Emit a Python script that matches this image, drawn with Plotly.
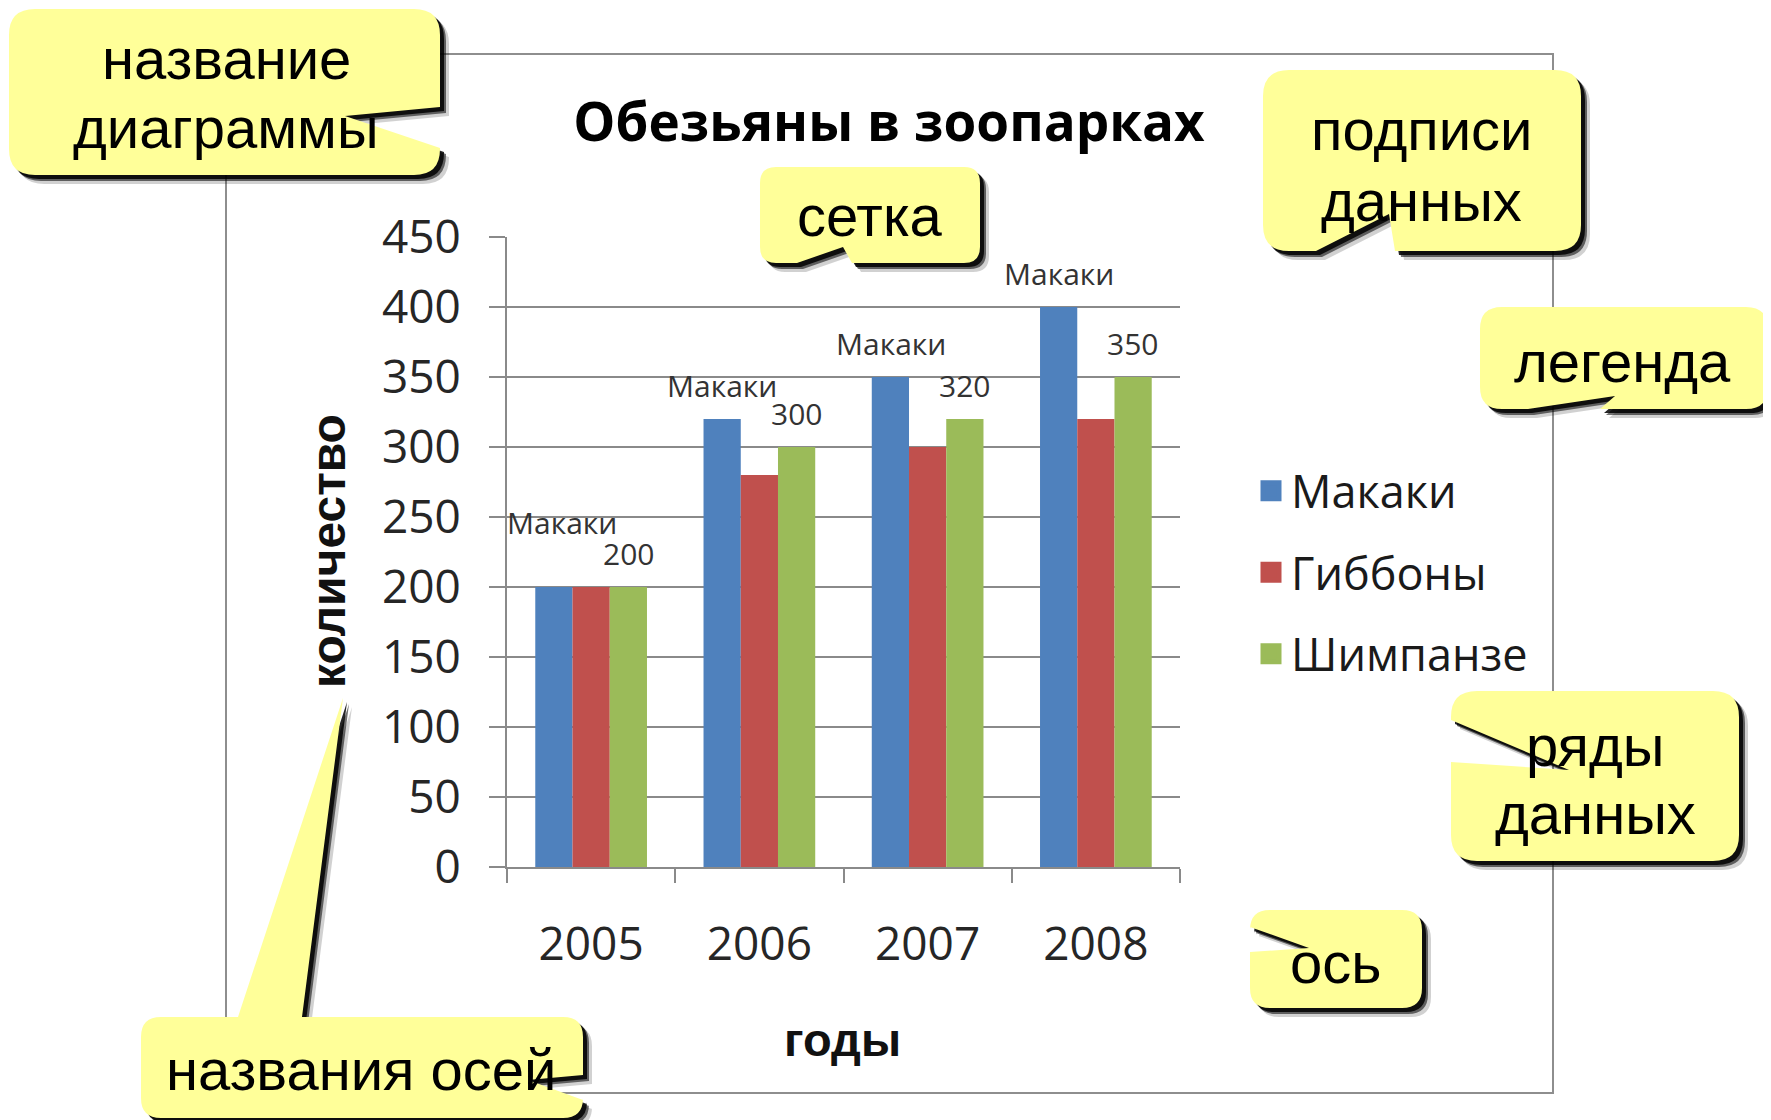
import plotly.graph_objects as go

# ---------------- data ----------------
years = ["2005", "2006", "2007", "2008"]
series_names = ["Макаки", "Гиббоны", "Шимпанзе"]
makaki = [200, 320, 350, 400]
gibbony = [200, 280, 300, 320]
shimpanze = [200, 300, 320, 350]
y_tick_values = [0, 50, 100, 150, 200, 250, 300, 350, 400, 450]

chart_title = "Обезьяны в зоопарках"
x_title = "годы"
y_title = "количество"

callout_texts = [
    ["название", "диаграммы"],
    ["сетка"],
    ["подписи", "данных"],
    ["легенда"],
    ["ряды", "данных"],
    ["ось"],
    ["названия осей"],
]

# ---------------- styling / geometry ----------------
colors = ["#4F81BD", "#C0504D", "#9BBB59"]
AX = "#8a8a8a"
OFF = 8  # page body margin
W, H = 1771 - OFF, 1120 - OFF
# plot area in page pixels
PL, PR, PT, PB = 507, 1180, 237, 867


def px(x):
    return (x - PL) / (PR - PL)


def py(y):
    return (PB - y) / (PB - PT)


fig = go.Figure()
for name, vals, c in zip(series_names, [makaki, gibbony, shimpanze], colors):
    fig.add_bar(x=years, y=vals, name=name, marker=dict(color=c, line=dict(width=0)),
                showlegend=False)
# legend entries (bigger squares than bar legend symbols)
for name, c in zip(series_names, colors):
    fig.add_scatter(x=[None], y=[None], mode="markers", name=name, legendgroup=name,
                    marker=dict(symbol="square", size=16, color=c, line=dict(width=5, color=c)))

fig.update_layout(
    width=W, height=H,
    margin=dict(l=PL - OFF, r=W - (PR - OFF), t=PT - OFF, b=H - (PB - OFF), autoexpand=False),
    paper_bgcolor="white", plot_bgcolor="white",
    barmode="group", bargap=0.336, bargroupgap=0,
    font=dict(family="Open Sans", color="#262626"),
    title=dict(text="<b>" + chart_title + "</b>", x=(889 - OFF) / W, xref="container", xanchor="center",
               y=1 - (122 - OFF) / H, yref="container", yanchor="middle",
               font=dict(family="Open Sans", size=53, color="#000000")),
    legend=dict(x=px(1251), xanchor="left", y=py(455), yanchor="top",
                font=dict(size=45, color="#1a1a1a"), traceorder="grouped",
                tracegroupgap=20, bgcolor="rgba(0,0,0,0)", itemsizing="trace"),
)
fig.update_xaxes(type="category", range=[-0.5, 3.5], showline=True, linecolor=AX, linewidth=2,
                 ticks="outside", tickson="boundaries", ticklen=14, tickcolor=AX, tickwidth=2,
                 tickfont=dict(size=46, color="#262626"), ticklabelstandoff=36, showgrid=False)
fig.update_yaxes(range=[0, 450], tickvals=y_tick_values, showgrid=True, gridcolor=AX, gridwidth=2,
                 showline=True, linecolor=AX, linewidth=2, ticks="outside", ticklen=16,
                 tickcolor=AX, tickwidth=2, tickfont=dict(size=46, color="#262626"),
                 ticklabelstandoff=19, zeroline=False)

# chart frame
fig.add_shape(type="rect", xref="paper", yref="paper", x0=px(226), x1=px(1553), y0=py(54), y1=py(1093),
              line=dict(color="#8e8e8e", width=2), fillcolor="white", layer="below")

# data labels
label_lift = [65, 34, 34, 34]
label_xshift = [8, 0, 0, 0]
value_lift = [34, 34, 34, 34]
for i, v in enumerate(makaki):
    fig.add_annotation(x=i - 0.22, y=v, xref="x", yref="y", text=series_names[0], showarrow=False,
                       xanchor="center", yanchor="middle",
                       yshift=label_lift[i], xshift=label_xshift[i],
                       font=dict(size=30, color="#333333"))
for i, v in enumerate(shimpanze):
    fig.add_annotation(x=i + 0.22, y=v, xref="x", yref="y", text=str(v), showarrow=False,
                       xanchor="center", yanchor="middle",
                       yshift=value_lift[i], font=dict(size=30, color="#333333"))

# axis titles
fig.add_annotation(x=px(842), y=py(1039), xref="paper", yref="paper", text="<b>" + x_title + "</b>",
                   showarrow=False, xanchor="center", yanchor="middle",
                   font=dict(family="Liberation Sans", size=47, color="#111111"))
fig.add_annotation(x=px(328), y=py(551), xref="paper", yref="paper", text="<b>" + y_title + "</b>",
                   textangle=-90, showarrow=False, xanchor="center", yanchor="middle",
                   font=dict(family="Liberation Sans", size=48, color="#111111"))


# ---------------- callouts ----------------
def callout_path(box, r, top=(), right=(), bottom=(), left=(), dx=0, dy=0):
    x0, y0, x1, y1 = box

    def P(x, y):
        return f"{px(x + dx):.5f},{py(y + dy):.5f}"

    s = f"M{P(x0 + r, y0)}"
    for (x, y) in top:
        s += f" L{P(x, y)}"
    s += f" L{P(x1 - r, y0)} Q{P(x1, y0)} {P(x1, y0 + r)}"
    for (x, y) in right:
        s += f" L{P(x, y)}"
    s += f" L{P(x1, y1 - r)} Q{P(x1, y1)} {P(x1 - r, y1)}"
    for (x, y) in bottom:
        s += f" L{P(x, y)}"
    s += f" L{P(x0 + r, y1)} Q{P(x0, y1)} {P(x0, y1 - r)}"
    for (x, y) in left:
        s += f" L{P(x, y)}"
    s += f" L{P(x0, y0 + r)} Q{P(x0, y0)} {P(x0 + r, y0)} Z"
    return s


callouts = [
    dict(box=(9, 9, 440, 175), r=26, right=[(440, 107), (345, 116), (440, 148)],
         pos=[(226, 59), (226, 128)]),
    dict(box=(760, 167, 980, 263), r=16, bottom=[(852, 263), (843, 247), (797, 263)],
         pos=[(870, 216)]),
    dict(box=(1263, 70, 1581, 251), r=26, bottom=[(1395, 251), (1389, 214), (1316, 251)],
         pos=[(1421, 130), (1421, 200)]),
    dict(box=(1480, 307, 1768, 409), r=22, bottom=[(1600, 409), (1615, 396), (1528, 409)],
         pos=[(1622, 361)]),
    dict(box=(1451, 691, 1739, 861), r=26, left=[(1451, 762), (1569, 770), (1451, 720)],
         pos=[(1595, 745), (1595, 813)]),
    dict(box=(1250, 910, 1422, 1008), r=20, left=[(1250, 952), (1309, 948), (1250, 927)],
         pos=[(1335, 963)]),
    dict(box=(141, 1017, 583, 1118), r=20, top=[(238, 1017), (343, 698), (302, 1017)],
         right=[(583, 1075), (528, 1080), (583, 1100)], pos=[(361, 1069)]),
]

for co, texts in zip(callouts, callout_texts):
    kw = {k: co.get(k, ()) for k in ("top", "right", "bottom", "left")}
    for (dx, dy, col) in [(9, 9, "rgba(0,0,0,0.18)"), (6, 6, "rgba(0,0,0,0.55)"), (4, 4, "rgba(0,0,0,0.85)")]:
        fig.add_shape(type="path", xref="paper", yref="paper", layer="above",
                      path=callout_path(co["box"], co["r"], dx=dx, dy=dy, **kw),
                      fillcolor=col, line=dict(width=0))
    fig.add_shape(type="path", xref="paper", yref="paper", layer="above",
                  path=callout_path(co["box"], co["r"], **kw),
                  fillcolor="#FFFF99", line=dict(width=0))
    for t, (tx, ty) in zip(texts, co["pos"]):
        fig.add_annotation(x=px(tx), y=py(ty), xref="paper", yref="paper", text=t, showarrow=False,
                           xanchor="center", yanchor="middle",
                           font=dict(family="Liberation Sans", size=58, color="#000000"))

fig.write_html("out.html")
